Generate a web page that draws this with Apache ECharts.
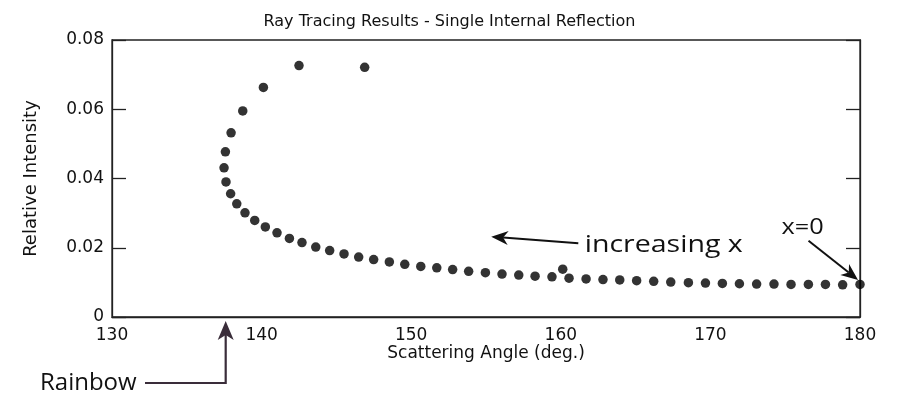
<!DOCTYPE html>
<html><head><meta charset="utf-8">
<script src="https://cdn.jsdelivr.net/npm/echarts@6/dist/echarts.min.js"></script>
<style>html,body{margin:0;padding:0;background:#fff}#c{width:899px;height:396px}</style>
</head><body><div id="c"></div>
<script>
const angles = [142.5,146.89,140.12,138.74,137.96,137.58,137.49,137.62,137.93,138.34,138.89,139.54,140.25,141.03,141.86,142.70,143.62,144.55,145.51,146.49,147.49,148.54,149.57,150.64,151.71,152.77,153.84,154.96,156.07,157.19,158.28,159.41,160.13,160.55,161.69,162.82,163.94,165.07,166.21,167.35,168.53,169.67,170.80,171.94,173.09,174.25,175.39,176.55,177.69,178.84,180.0];
const intensities = [0.0726,0.0721,0.0663,0.0595,0.0532,0.0477,0.0431,0.0390,0.0356,0.0327,0.0301,0.0279,0.0260,0.0243,0.0227,0.0215,0.0202,0.0192,0.0182,0.0173,0.0166,0.0159,0.0152,0.0146,0.0142,0.0137,0.0132,0.0128,0.0124,0.0121,0.0118,0.0116,0.0138,0.0112,0.0110,0.0108,0.0107,0.0105,0.0103,0.0101,0.0099,0.0098,0.0097,0.0096,0.0095,0.0095,0.0094,0.0094,0.0094,0.0093,0.0094];
const xTicks = [130,140,150,160,170,180];
const yTicks = [0,0.02,0.04,0.06,0.08];
const titleText = 'Ray Tracing Results - Single Internal Reflection';
const xName = 'Scattering Angle (deg.)';
const yName = 'Relative Intensity';
const notes = {increasing:'increasing x', zero:'x=0', rainbow:'Rainbow'};

const chart = echarts.init(document.getElementById('c'));
const axisCol = '#222';
const font = 'DejaVu Sans, Liberation Sans, sans-serif';
chart.setOption({
  animation:false,
  title:{text:titleText,left:'center',top:9,textStyle:{fontFamily:font,fontSize:16,fontWeight:'normal',color:'#111'}},
  grid:{left:112,right:39,top:40,bottom:79,show:true,borderColor:axisCol,borderWidth:1.3},
  xAxis:{type:'value',min:xTicks[0],max:xTicks[xTicks.length-1],interval:10,
    name:xName,nameLocation:'middle',nameGap:28,nameMoveOverlap:false,nameTextStyle:{fontFamily:font,fontSize:17,color:'#111'},
    axisLine:{show:true,onZero:false,lineStyle:{color:axisCol,width:1.3}},axisTick:{show:false},splitLine:{show:false},
    axisLabel:{fontFamily:font,fontSize:17,color:'#111',margin:10}},
  yAxis:[{type:'value',min:yTicks[0],max:yTicks[yTicks.length-1],interval:0.02,
    name:yName,nameLocation:'middle',nameGap:72,nameMoveOverlap:false,nameTextStyle:{fontFamily:font,fontSize:18,color:'#111'},
    axisLine:{show:true,lineStyle:{color:axisCol,width:1.3}},
    axisTick:{show:true,inside:true,length:14,lineStyle:{color:axisCol,width:1.3}},splitLine:{show:false},
    axisLabel:{fontFamily:font,fontSize:17,color:'#111',margin:8,formatter:v=>v===0?'0':v.toFixed(2)}},
   {type:'value',position:'right',min:yTicks[0],max:yTicks[yTicks.length-1],interval:0.02,
    axisLine:{show:true,lineStyle:{color:axisCol,width:1.3}},
    axisTick:{show:true,inside:true,length:14,lineStyle:{color:axisCol,width:1.3}},splitLine:{show:false},
    axisLabel:{show:false}}],
  series:[{type:'scatter',symbolSize:9.5,itemStyle:{color:'#000'},clip:false,
    data:angles.map((a,i)=>[a,intensities[i]])}]
});

function px(p){return chart.convertToPixel({gridIndex:0},p);}
function arrow(from,to,color,hl,hw){
  const dx=to[0]-from[0],dy=to[1]-from[1],L=Math.hypot(dx,dy),ux=dx/L,uy=dy/L;
  const bx=to[0]-ux*hl,by=to[1]-uy*hl, nx=-uy,ny=ux;
  const back=to[0]-ux*hl*0.7, backy=to[1]-uy*hl*0.7;
  return [
    {type:'line',shape:{x1:from[0],y1:from[1],x2:back,y2:backy},style:{stroke:color,lineWidth:2}},
    {type:'polygon',shape:{points:[to,[bx+nx*hw,by+ny*hw],[back,backy],[bx-nx*hw,by-ny*hw]]},style:{fill:color}}
  ];
}
const annFont='Open Sans, Noto Sans, sans-serif';
const g=[];
// increasing x
const a1=px([161.17,0.0213]), a2=px([155.35,0.0232]);
g.push(...arrow(a1,a2,'#111',17,7));
const t1=px([161.6,0.0208]);
g.push({type:'text',x:t1[0],y:t1[1],scaleX:1.24,style:{text:notes.increasing,font:'23px '+annFont,fill:'#111',textVerticalAlign:'middle'}});
// x=0
const b1=px([176.56,0.0220]), b2=px([179.87,0.0107]);
g.push(...arrow(b1,b2,'#111',17,7));
const t2=px([174.76,0.0257]);
g.push({type:'text',x:t2[0],y:t2[1],scaleX:1.15,style:{text:notes.zero,font:'22px '+annFont,fill:'#111',textVerticalAlign:'middle'}});
// rainbow
const r0=px([137.6,0]);
const tipY=r0[1]+4, baseY=r0[1]+66;
const col='#3a2d3a';
g.push({type:'polyline',shape:{points:[[145,baseY],[r0[0],baseY],[r0[0],tipY+14]]},style:{stroke:col,lineWidth:2.2,fill:null}});
g.push({type:'polygon',shape:{points:[[r0[0],tipY],[r0[0]+8,tipY+19],[r0[0],tipY+14],[r0[0]-8,tipY+19]]},style:{fill:col}});
g.push({type:'text',x:40,y:baseY,style:{text:notes.rainbow,font:'24px '+annFont,fill:'#111',textVerticalAlign:'middle'}});
chart.setOption({graphic:g});
</script></body></html>
